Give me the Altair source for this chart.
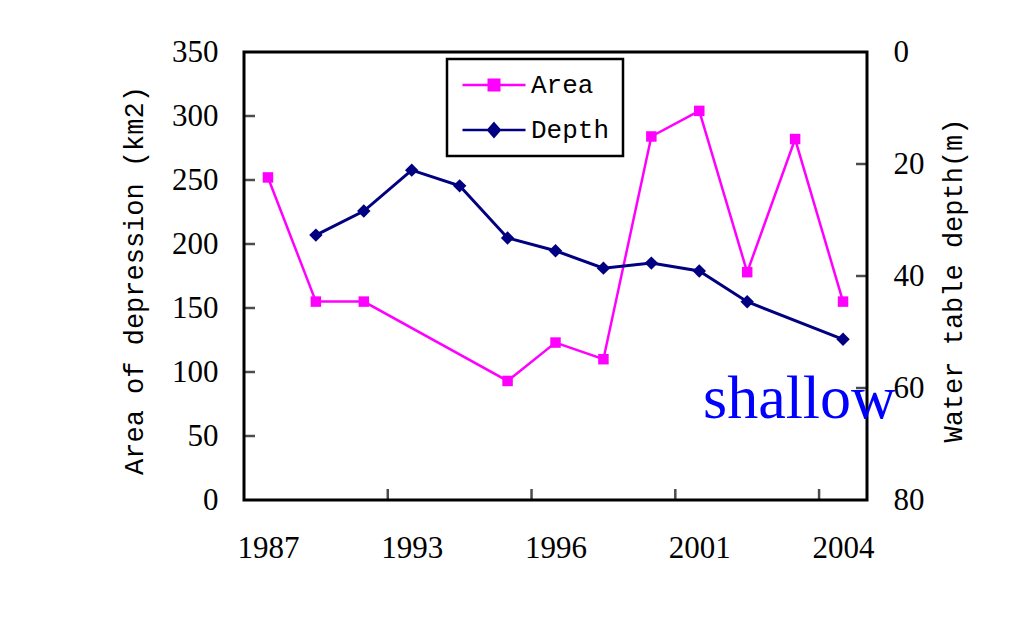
import altair as alt
import pandas as pd

# ---------------- data ----------------
years = ["1987", "1989", "1991", "1993", "1994", "1995", "1996",
         "1997", "1999", "2001", "2002", "2003", "2004"]
area_km2 = [252, 155, 155, None, None, 93, 123, 110, 284, 304, 178, 282, 155]
depth_m = [None, 32.7, 28.4, 21.1, 23.9, 33.2, 35.5, 38.6, 37.7, 39.1, 44.6, None, 51.3]
series_names = ["Area", "Depth"]
series_colors = ["#FF00FF", "#000080"]
area_ticks = [0, 50, 100, 150, 200, 250, 300, 350]
depth_ticks = [0, 20, 40, 60, 80]
label_step = 3
annotation = "shallow"

# ---------------- layout ----------------
W, H = 623, 448
SERIF = "Liberation Serif"
MONO = "Liberation Mono"
TICK_LEN = 11

n = len(years)
idx = list(range(n))
label_idx = idx[::label_step]
xtick_pos = [i - 0.5 for i in label_idx[1:]]

area_df = pd.DataFrame({"idx": idx, "year": years, "area": area_km2}).dropna()
depth_df = pd.DataFrame({"idx": idx, "year": years, "depth": depth_m}).dropna()

label_expr = ""
for i in label_idx:
    label_expr += f"datum.value == {i} ? '{years[i]}' : "
label_expr += "''"

xscale = alt.Scale(domain=[-0.5, n - 0.5], nice=False, zero=False)
ascale = alt.Scale(domain=[area_ticks[0], area_ticks[-1]], nice=False, zero=True)
dscale = alt.Scale(domain=[depth_ticks[0], depth_ticks[-1]], nice=False, zero=True, reverse=True)

xaxis = alt.Axis(values=label_idx, labelExpr=label_expr, ticks=False,
                 domain=False, grid=False, labelPadding=33, labelFont=SERIF,
                 labelFontSize=31, labelColor="black", title=None,
                 labelFlush=False, labelOverlap=False, orient="bottom")

left_axis = alt.Axis(values=area_ticks, ticks=False, domain=False, grid=False,
                     labelPadding=26, labelFont=SERIF, labelFontSize=31,
                     labelColor="black", labelOverlap=False, labelFlush=False,
                     title="Area of depression (km2)", titleFont=MONO,
                     titleFontSize=27, titleFontWeight="normal", titleColor="black",
                     titleAngle=270, titleAlign="center", titleBaseline="middle",
                     titleX=-110, titleY=228, orient="left")

right_axis = alt.Axis(values=depth_ticks, ticks=False, domain=False, grid=False,
                      labelPadding=26, labelFont=SERIF, labelFontSize=31,
                      labelColor="black", labelOverlap=False, labelFlush=False,
                      title="Water table depth(m)", titleFont=MONO,
                      titleFontSize=27, titleFontWeight="normal", titleColor="black",
                      titleAngle=270, titleAlign="center", titleBaseline="middle",
                      titleX=86, titleY=228, orient="right")

# ---------------- Area ----------------
area_line = alt.Chart(area_df).mark_line(color=series_colors[0], strokeWidth=2.5).encode(
    x=alt.X("idx:Q", scale=xscale, axis=xaxis),
    y=alt.Y("area:Q", scale=ascale, axis=left_axis),
)
area_pts = alt.Chart(area_df).mark_point(
    shape="square", filled=True, size=110, color=series_colors[0], opacity=1
).encode(
    x=alt.X("idx:Q", scale=xscale, axis=None),
    y=alt.Y("area:Q", scale=ascale, axis=None),
)
left_ticks = alt.Chart(pd.DataFrame({"v": area_ticks[1:-1]})).mark_tick(
    color="black", thickness=2.5, size=TICK_LEN, orient="horizontal"
).encode(y=alt.Y("v:Q", scale=ascale, axis=None), x=alt.value(TICK_LEN / 2))

x_ticks = alt.Chart(pd.DataFrame({"v": xtick_pos})).mark_tick(
    color="black", thickness=2.5, size=TICK_LEN, orient="vertical"
).encode(x=alt.X("v:Q", scale=xscale, axis=None), y=alt.value(H - TICK_LEN / 2))

# ---------------- Depth ----------------
depth_line = alt.Chart(depth_df).mark_line(color=series_colors[1], strokeWidth=3).encode(
    x=alt.X("idx:Q", scale=xscale, axis=None),
    y=alt.Y("depth:Q", scale=dscale, axis=right_axis),
)
depth_pts = alt.Chart(depth_df).mark_point(
    shape="diamond", filled=True, size=180, color=series_colors[1], opacity=1
).encode(
    x=alt.X("idx:Q", scale=xscale, axis=None),
    y=alt.Y("depth:Q", scale=dscale, axis=None),
)
right_ticks = alt.Chart(pd.DataFrame({"v": depth_ticks[1:-1]})).mark_tick(
    color="black", thickness=2.5, size=TICK_LEN, orient="horizontal"
).encode(y=alt.Y("v:Q", scale=dscale, axis=None), x=alt.value(W - TICK_LEN / 2))

note = alt.Chart(pd.DataFrame({"t": [annotation]})).mark_text(
    font=SERIF, fontSize=62, color="#0000FF", align="left", baseline="alphabetic"
).encode(text="t:N", x=alt.value(459), y=alt.value(366))

# ---------------- legend (Vega legend, custom line+marker symbols) ----------------
sym_paths = ["M-3,0H3M-0.5,-0.5H0.5V0.5H-0.5Z",
             "M-3,0H3M0,-0.62L0.55,0L0,0.62L-0.55,0Z"]
leg = alt.Legend(orient="none", legendX=203, legendY=7, title=None,
                 direction="vertical", strokeColor="black", fillColor="white",
                 padding=13, symbolSize=441, symbolOffset=21, symbolStrokeWidth=2.5,
                 labelFont=MONO, labelFontSize=26, labelColor="black",
                 labelOffset=24, rowPadding=19)
legend_layer = alt.Chart(pd.DataFrame({"series": pd.Series([], dtype=str)})).mark_point(
    filled=True, opacity=1
).encode(
    fill=alt.Fill("series:N", scale=alt.Scale(domain=series_names, range=series_colors), legend=leg),
    stroke=alt.Stroke("series:N", scale=alt.Scale(domain=series_names, range=series_colors), legend=leg),
    shape=alt.Shape("series:N", scale=alt.Scale(domain=series_names, range=sym_paths), legend=leg),
)

chart = alt.layer(
    area_line, area_pts, left_ticks, x_ticks,
    depth_line, depth_pts, right_ticks, note, legend_layer
).resolve_scale(
    y="independent"
).resolve_axis(
    x="independent"
).properties(
    width=W, height=H,
    autosize=alt.AutoSizeParams(type="none"),
    padding={"left": 236, "top": 44, "right": 159, "bottom": 124},
    background="white",
).configure_view(
    stroke="black", strokeWidth=3
).configure_legend(
    strokeWidth=2.5
)

chart.save("out.html", embed_options={"renderer": "svg", "actions": False})
